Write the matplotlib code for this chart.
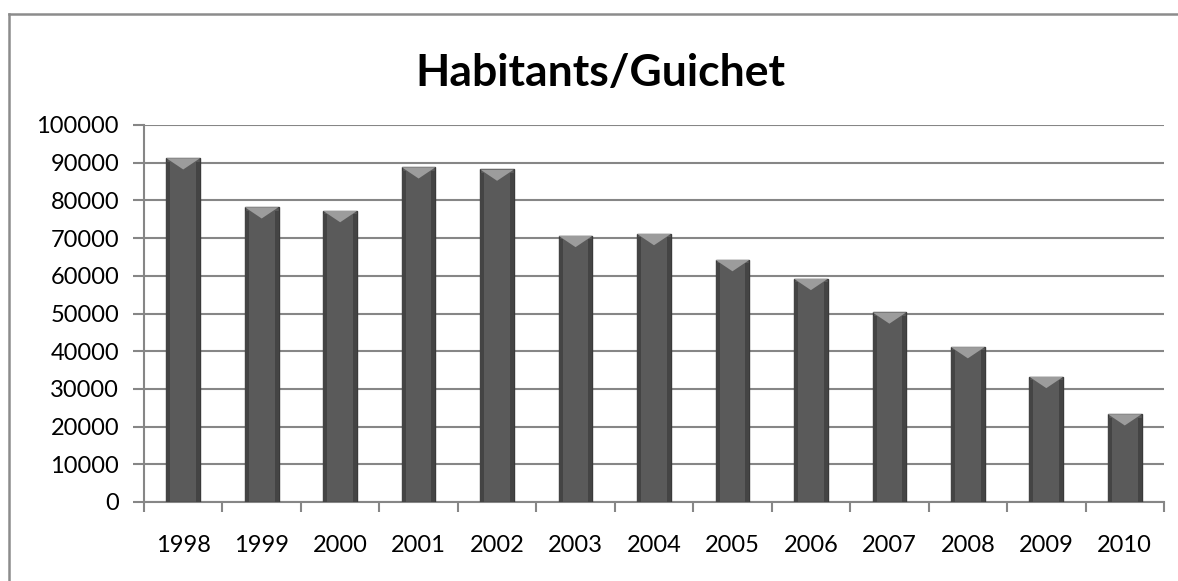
import matplotlib
matplotlib.use("Agg")
import matplotlib.pyplot as plt
from matplotlib.patches import Polygon, Rectangle
from matplotlib.lines import Line2D
import numpy as np

years = ["1998", "1999", "2000", "2001", "2002", "2003", "2004",
         "2005", "2006", "2007", "2008", "2009", "2010"]
values = [91200, 78200, 77200, 88800, 88200, 70600, 71100,
          64200, 59200, 50300, 41100, 33200, 23300]
title = "Habitants/Guichet"

plt.rcParams['font.family'] = ['Lato', 'DejaVu Sans']

fig = plt.figure(figsize=(11.78, 5.81), dpi=100)
# outer chart frame (only top and left edges are visible in the image)
fx0, fy0 = 8.5/1178, 1 - 13.5/581
fig.lines.append(Line2D([fx0, 1.0], [fy0, fy0], transform=fig.transFigure,
                        color='#8c8c8c', linewidth=1.8))
fig.lines.append(Line2D([fx0, fx0], [0.0, fy0], transform=fig.transFigure,
                        color='#8c8c8c', linewidth=1.8))

ax = fig.add_axes([144/1178, (581-502)/581, (1164-144)/1178, (502-125)/581])
x = np.arange(len(years))
w = 0.43
bars = ax.bar(x, values, width=w, color='#5a5a5a', edgecolor='#3a3a3a',
              linewidth=1.0, zorder=3)

# light bevel on the top of each bar
for b in bars:
    x0, x1 = b.get_x(), b.get_x() + b.get_width()
    top = b.get_height()
    d = 3000
    bw = b.get_width()
    ax.add_patch(Rectangle((x0, 0), bw * 0.12, top - d * 0.3,
                           facecolor='#444444', edgecolor='none', zorder=4))
    ax.add_patch(Rectangle((x1 - bw * 0.12, 0), bw * 0.12, top - d * 0.3,
                           facecolor='#444444', edgecolor='none', zorder=4))
    tri = Polygon([[x0, top], [x1, top], [(x0 + x1) / 2, top - d]],
                  closed=True, facecolor='#9c9c9c', edgecolor='none', zorder=5)
    ax.add_patch(tri)

ax.set_xlim(-0.5, len(years) - 0.5)
ax.set_ylim(0, 100000)
ax.set_yticks(np.arange(0, 100001, 10000))
ax.set_yticklabels([str(v) for v in range(0, 100001, 10000)], fontsize=17)
ax.set_xticks(x)
ax.set_xticklabels(years, fontsize=17)
ax.set_xticks(np.arange(-0.5, len(years), 1), minor=True)
ax.tick_params(axis='x', which='major', length=0, pad=24)
ax.tick_params(axis='x', which='minor', length=7, width=1.5, color='#868686', direction='out')
ax.tick_params(axis='y', length=8, width=1.5, color='#868686', pad=10)
ax.grid(axis='y', color='#868686', linewidth=1.5, zorder=0)
ax.set_axisbelow(True)
for s in ['top', 'right']:
    ax.spines[s].set_visible(False)
for s in ['left', 'bottom']:
    ax.spines[s].set_color('#868686')
    ax.spines[s].set_linewidth(1.5)

fig.text(600/1178, 1 - 73/581, title, ha='center', va='center',
         fontsize=32, fontweight='bold')

fig.savefig("out.png", dpi=100)
